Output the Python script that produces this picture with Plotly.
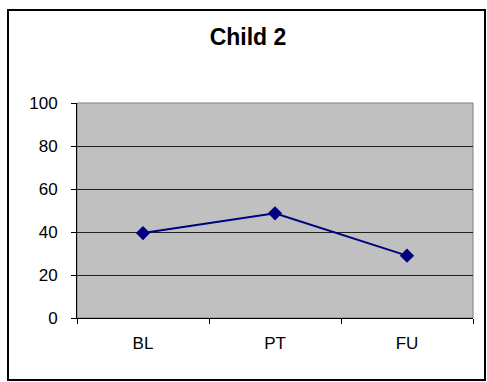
import plotly.graph_objects as go

# Scores for Child 2 across the three phases
phases = ["BL", "PT", "FU"]
scores = [39.5, 48.7, 29.0]
y_ticks = [0, 20, 40, 60, 80, 100]

W, H = 487, 382
L, R, T, B = 77, 14, 103, 64
pw, ph = W - L - R, H - T - B

def px_x(x):
    return (x - L) / pw

def px_y(y):
    return (H - B - y) / ph

fig = go.Figure()
fig.add_trace(go.Scatter(
    x=phases, y=scores, mode="lines+markers",
    line=dict(color="#000080", width=2),
    marker=dict(symbol="diamond", size=11, color="#000080"),
    showlegend=False, cliponaxis=False,
))

fig.update_layout(
    width=W, height=H,
    margin=dict(l=L, r=R, t=T, b=B),
    paper_bgcolor="white",
    plot_bgcolor="#c0c0c0",
    font=dict(family="Liberation Sans, Arial, sans-serif", size=17, color="black"),
    title=dict(text="<b>Child 2</b>", x=px_x(248), xref="paper", y=1 - 37 / H,
               yanchor="middle", xanchor="center", font=dict(size=23)),
    xaxis=dict(type="category", tickson="boundaries", range=[-0.5, 2.5],
               ticks="outside", ticklen=5, tickcolor="black", showline=True,
               linecolor="black", linewidth=1, showgrid=False, zeroline=False,
               ticklabelstandoff=10),
    yaxis=dict(range=[0, 100], tickvals=y_ticks, ticks="outside", ticklen=5,
               tickcolor="black", showline=True, linecolor="black", linewidth=1,
               showgrid=True, gridcolor="#202020", gridwidth=1, zeroline=False,
               ticklabelstandoff=10),
    shapes=[
        # plot-area outline
        dict(type="rect", xref="paper", yref="paper", x0=0, x1=1, y0=0, y1=1,
             line=dict(color="#808080", width=1), layer="below"),
        # outer chart frame
        dict(type="rect", xref="paper", yref="paper",
             x0=px_x(8), x1=px_x(485), y0=px_y(380), y1=px_y(10),
             line=dict(color="black", width=2)),
    ],
)

fig.write_html("out.html")
